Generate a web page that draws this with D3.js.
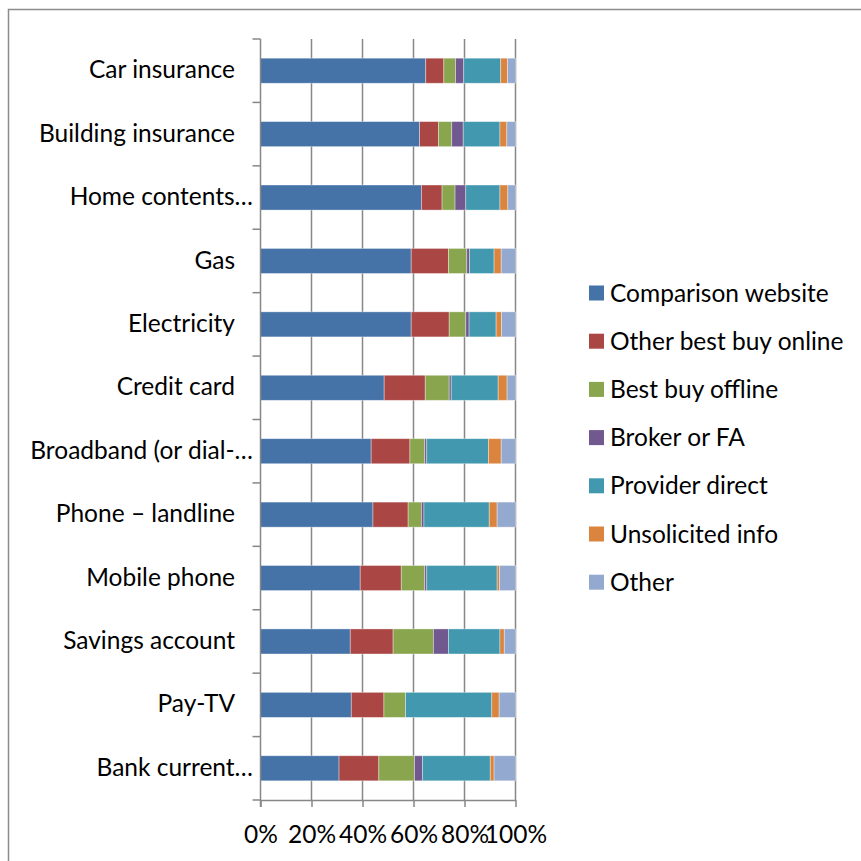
<!DOCTYPE html>
<html>
<head>
<meta charset="utf-8">
<script src="https://cdn.jsdelivr.net/npm/d3@7"></script>
<style>
  html, body { margin: 0; padding: 0; background: #fff; }
  svg { display: block; }
  text { font-family: Lato, "Open Sans", sans-serif; fill: #000; }
</style>
</head>
<body>
<svg id="chart" width="861" height="861"></svg>
<script>
// Where shoppers look when switching products (share of each channel, %)
const categories = [
  "Car insurance", "Building insurance", "Home contents…", "Gas", "Electricity",
  "Credit card", "Broadband (or dial-…", "Phone – landline", "Mobile phone",
  "Savings account", "Pay-TV", "Bank current…"
];
const seriesNames = [
  "Comparison website", "Other best buy online", "Best buy offline",
  "Broker or FA", "Provider direct", "Unsolicited info", "Other"
];
const comparisonWebsite = [64.8, 62.4, 63.1, 59.1, 59.1, 48.5, 43.4, 44.1, 39.1, 35.2, 35.6, 30.8];
const otherBestBuyOnline = [7.1, 7.4, 8.1, 14.6, 14.9, 16.1, 15.2, 13.8, 16.1, 16.8, 12.8, 15.6];
const bestBuyOffline    = [4.6, 5.2, 5.1, 7.2, 6.5, 9.4, 5.8, 5.2, 9.2, 15.8, 8.5, 14.0];
const brokerOrFA        = [3.2, 4.5, 4.2, 1.1, 1.3, 0.8, 0.8, 1.0, 0.8, 5.9, 0.0, 3.1];
const providerDirect    = [14.5, 14.4, 13.4, 9.6, 10.6, 18.4, 24.2, 25.6, 27.6, 20.2, 33.8, 26.6];
const unsolicitedInfo   = [2.7, 2.7, 3.1, 2.8, 2.1, 3.5, 5.0, 3.1, 0.9, 1.7, 2.9, 1.5];
const other             = [3.1, 3.4, 3.0, 5.6, 5.5, 3.3, 5.6, 7.2, 6.3, 4.4, 6.4, 8.4];
const xTickValues = [0, 20, 40, 60, 80, 100];

const colors = ["#4572A7", "#AA4643", "#89A54E", "#71588F", "#4198AF", "#DB843D", "#93A9CF"];
const seriesValues = [comparisonWebsite, otherBestBuyOnline, bestBuyOffline, brokerOrFA,
                      providerDirect, unsolicitedInfo, other];

const fontSize = 24.5;

// Build rows and normalise each to 100% (stacked percentage chart)
const rows = categories.map((c, i) => {
  const row = { category: c };
  seriesNames.forEach((s, j) => row[s] = seriesValues[j][i]);
  return row;
});
const stacked = d3.stack().keys(seriesNames).offset(d3.stackOffsetExpand)(rows);

const svg = d3.select("#chart");

// chart frame
svg.append("rect")
  .attr("x", 8.5).attr("y", 9.5).attr("width", 900).attr("height", 900)
  .attr("fill", "none").attr("stroke", "#8c8c8c").attr("stroke-width", 1.5);

const plot = { left: 260.5, right: 515.5, top: 39, bottom: 800 };

const x = d3.scaleLinear().domain([0, 1]).range([plot.left, plot.right]);
const y = d3.scaleBand().domain(categories).range([plot.top, plot.bottom]).paddingInner(0.605).paddingOuter(0.3025);
const yOuter = d3.scaleBand().domain(categories).range([plot.top, plot.bottom]);

const gridColor = "#878787";

// vertical gridlines
svg.append("g").selectAll("line")
  .data(xTickValues.slice(1))
  .join("line")
  .attr("x1", d => x(d / 100)).attr("x2", d => x(d / 100))
  .attr("y1", plot.top).attr("y2", plot.bottom)
  .attr("stroke", gridColor).attr("stroke-width", 1.5);

// stacked bars
svg.append("g").selectAll("g")
  .data(stacked)
  .join("g")
  .attr("fill", (d, i) => colors[i])
  .selectAll("rect")
  .data(d => d)
  .join("rect")
  .attr("x", d => x(d[0]))
  .attr("y", d => y(d.data.category))
  .attr("width", d => Math.max(0, x(d[1]) - x(d[0])))
  .attr("height", y.bandwidth())
  .attr("stroke", "rgba(255,255,255,0.45)")
  .attr("stroke-width", 0.8);

// x axis
const xAxis = d3.axisBottom(x)
  .tickValues(xTickValues.map(v => v / 100))
  .tickFormat(d => Math.round(d * 100) + "%")
  .tickSizeInner(7).tickSizeOuter(0);
const gx = svg.append("g").attr("transform", `translate(0,${plot.bottom})`).call(xAxis);
gx.select(".domain").attr("stroke", gridColor).attr("stroke-width", 1.5);
gx.selectAll(".tick line").attr("stroke", gridColor).attr("stroke-width", 1.5);
gx.selectAll(".tick text")
  .attr("y", 43).attr("dy", 0)
  .attr("font-size", fontSize).attr("font-family", "Lato, sans-serif").attr("fill", "#000");

// y axis: line with ticks at category boundaries
svg.append("line")
  .attr("x1", plot.left).attr("x2", plot.left)
  .attr("y1", plot.top).attr("y2", plot.bottom + 7)
  .attr("stroke", gridColor).attr("stroke-width", 1.5);
const boundaries = categories.map(c => yOuter(c)).concat([plot.bottom]);
svg.append("g").selectAll("line")
  .data(boundaries)
  .join("line")
  .attr("x1", plot.left - 8).attr("x2", plot.left)
  .attr("y1", d => d).attr("y2", d => d)
  .attr("stroke", gridColor).attr("stroke-width", 1.5);

// category labels
svg.append("g").selectAll("text")
  .data(categories)
  .join("text")
  .attr("x", d => d.endsWith("…") ? 253 : 235)
  .attr("y", d => yOuter(d) + yOuter.bandwidth() / 2 - 1)
  .attr("dy", "0.35em")
  .attr("text-anchor", "end")
  .attr("font-size", fontSize)
  .text(d => d);

// legend
const legend = svg.append("g").attr("transform", "translate(589,293)");
const item = legend.selectAll("g")
  .data(seriesNames)
  .join("g")
  .attr("transform", (d, i) => `translate(0,${i * 48.2})`);
item.append("rect")
  .attr("x", 0).attr("y", -7.5).attr("width", 15).attr("height", 15)
  .attr("fill", (d, i) => colors[i]);
item.append("text")
  .attr("x", 21).attr("y", 0).attr("dy", "0.35em")
  .attr("font-size", fontSize)
  .text(d => d);
</script>
</body>
</html>
